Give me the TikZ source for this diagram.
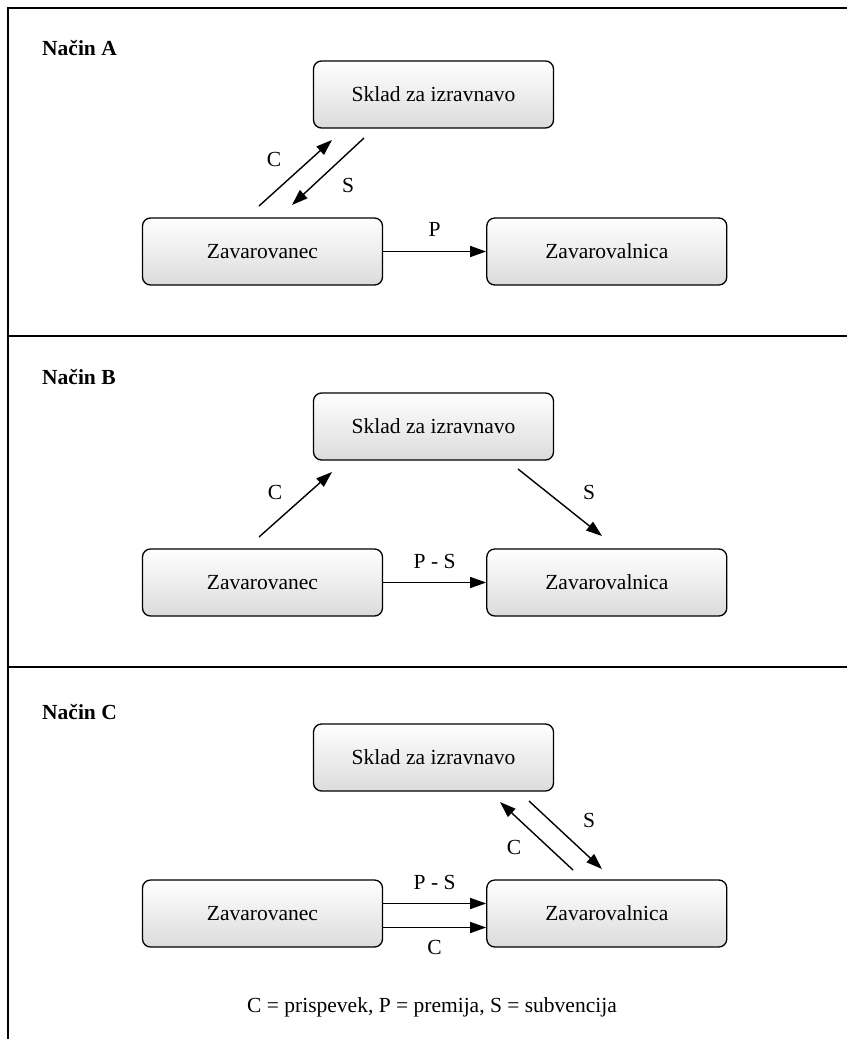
\documentclass[tikz,border=0pt]{standalone}
\usepackage{fontspec}
\setmainfont{Liberation Serif}
\usetikzlibrary{arrows.meta,positioning,calc}
\tikzset{
block/.style = {draw, rounded corners=8pt, top color=white, bottom color=black!14, minimum width=240pt, minimum height=67pt, inner sep=0pt, line width=1.3pt, font=\fontsize{21.5}{26}\selectfont},
lbl/.style = {inner sep=0pt, font=\fontsize{21.5}{26}\selectfont},
heading/.style = {anchor=west, inner sep=0pt, font=\fontsize{21.5}{26}\selectfont\bfseries},
framelin/.style = {line width=1.6pt},
conn/.style = {->, line width=1.4pt}
}

\begin{document}
\begin{tikzpicture}[x=1pt, y=-1pt, >={Triangle[length=16pt,width=11pt]}]
    \useasboundingbox (0,0) rectangle (847,1039);
    % frame and separators
    \draw [framelin] (8,1039) -- (8,8) -- (847,8);
    \draw [framelin] (8,336) -- (847,336);
    \draw [framelin] (8,667) -- (847,667);

    % Nacin A
    \node [heading] (hA) at (42,48) {Način A};
    \node [block] (skladA) at (433.5,94.5) {Sklad za izravnavo};
    \node [block] (zavA) at (262.5,251.5) {Zavarovanec};
    \node [block, right=103pt of zavA] (zvlA) {Zavarovalnica};
    \coordinate (cA1) at (259,206);
    \coordinate (cA2) at (332,140);
    \coordinate (sA1) at (364,138);
    \coordinate (sA2) at (292,205);

    \draw [conn] (cA1) -- node[lbl, xshift=-21.5pt, yshift=14pt]{C} (cA2);
    \draw [conn] (sA1) -- node[lbl, xshift=20pt, yshift=-13.5pt]{S} (sA2);
    \draw [conn] (zavA) -- node[lbl, yshift=22.5pt]{P} (zvlA);

    % Nacin B
    \node [heading] (hB) at (42,377) {Način B};
    \node [block] (skladB) at (433.5,426.5) {Sklad za izravnavo};
    \node [block] (zavB) at (262.5,582.5) {Zavarovanec};
    \node [block, right=103pt of zavB] (zvlB) {Zavarovalnica};
    \coordinate (cB1) at (259,537);
    \coordinate (cB2) at (332,472);
    \coordinate (sB1) at (518,469);
    \coordinate (sB2) at (602,536);

    \draw [conn] (cB1) -- node[lbl, xshift=-20.5pt, yshift=12.5pt]{C} (cB2);
    \draw [conn] (sB1) -- node[lbl, xshift=29pt, yshift=10.5pt]{S} (sB2);
    \draw [conn] (zavB) -- node[lbl, yshift=21.5pt]{P - S} (zvlB);

    % Nacin C
    \node [heading] (hC) at (42,712) {Način C};
    \node [block] (skladC) at (433.5,757.5) {Sklad za izravnavo};
    \node [block] (zavC) at (262.5,913.5) {Zavarovanec};
    \node [block, right=103pt of zavC] (zvlC) {Zavarovalnica};
    \coordinate (cC1) at (573,870);
    \coordinate (cC2) at (500,802);
    \coordinate (sC1) at (529,801);
    \coordinate (sC2) at (602,869);

    \draw [conn] (cC1) -- node[lbl, xshift=-22.5pt, yshift=-11pt]{C} (cC2);
    \draw [conn] (sC1) -- node[lbl, xshift=23.5pt, yshift=15pt]{S} (sC2);
    \draw [conn] ([yshift=10pt]zavC.east) -- node[lbl, yshift=21.5pt]{P - S} ([yshift=10pt]zvlC.west);
    \draw [conn] ([yshift=-14pt]zavC.east) -- node[lbl, yshift=-19.5pt]{C} ([yshift=-14pt]zvlC.west);

    \node [lbl] (legend) at (432,1007) {C = prispevek, P = premija, S = subvencija};
\end{tikzpicture}
\end{document}
